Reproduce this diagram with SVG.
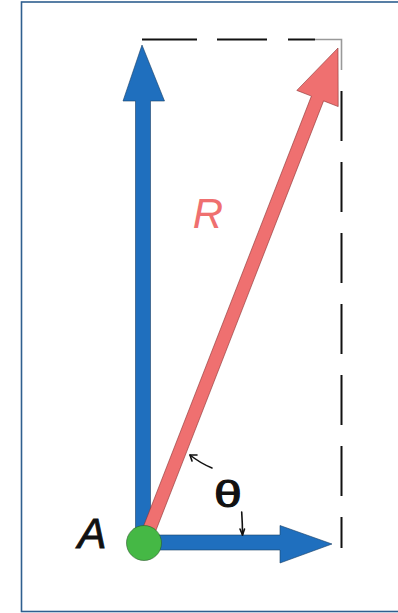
<svg xmlns="http://www.w3.org/2000/svg" width="398" height="613" viewBox="0 0 398 613">
<style>
.frame{fill:#fff;stroke:#2f5f8f;stroke-width:1.6}
.dash{stroke:#111;stroke-width:2;fill:none}
.blue{fill:#1f6fbe;stroke:#1a3f66;stroke-width:0.6}
.red{fill:#ef7070;stroke:#8a3030;stroke-width:0.6}
.mark{stroke:#111;stroke-width:1.6;fill:none;stroke-linecap:round}
.lbl{font-family:"Liberation Sans",Arial,sans-serif;font-style:italic}
</style>
<rect class="frame" x="21.5" y="2" width="400" height="609.5"/>
<g id="connectors">
  <g id="dashed-box">
    <line class="dash" x1="142" y1="39.5" x2="197" y2="39.5"/>
    <line class="dash" x1="217" y1="39.5" x2="267" y2="39.5"/>
    <line class="dash" x1="288" y1="39.5" x2="315" y2="39.5"/>
    <polyline points="315,39.5 341.5,39.5 341.5,70" fill="none" stroke="#999" stroke-width="1.6"/>
    <line class="dash" x1="341.5" y1="548" x2="341.5" y2="91" stroke-dasharray="50 21" stroke-dashoffset="19"/>
  </g>
  <g id="vertical-arrow">
    <polygon class="blue" points="135.5,543 135.5,101 123,101 142,45 164.5,101 150.5,101 150.5,543"/>
  </g>
  <g id="horizontal-arrow">
    <polygon class="blue" points="144,535 280,535 280,525.5 332,544 280,563 280,550 144,550"/>
  </g>
  <g id="resultant-R">
    <polygon class="red" points="137.9,540.6 311.4,96.1 296.8,90.4 338,48 338.2,106.6 323.6,100.9 150.1,545.4"/>
  </g>
  <g id="angle-marks">
    <path class="mark" d="M190,455 Q200,463 212,468"/>
    <path class="mark" d="M190,455 L197,455 M190,455 L192,461"/>
    <path class="mark" d="M241.7,512 Q242.5,524 242.5,535"/>
    <path class="mark" d="M242.5,535 L240,529 M242.5,535 L244.5,529"/>
  </g>
</g>
<g id="node-A">
  <circle cx="144" cy="543" r="17.5" fill="#45b845" stroke="#2a5a2a" stroke-width="0.6"/>
  <text class="lbl" x="92" y="548" font-size="43" text-anchor="middle" fill="#111" stroke="#111" stroke-width="0.9">A</text>
</g>
<g id="label-R">
  <text class="lbl" x="208" y="228" font-size="42" text-anchor="middle" fill="#ef7070">R</text>
</g>
<g id="label-theta">
  <text x="0" y="0" transform="translate(228,506.5) scale(1.35,1)" font-family="'Liberation Sans',Arial,sans-serif" font-size="37" text-anchor="middle" fill="#111" stroke="#111" stroke-width="1">θ</text>
</g>
</svg>
